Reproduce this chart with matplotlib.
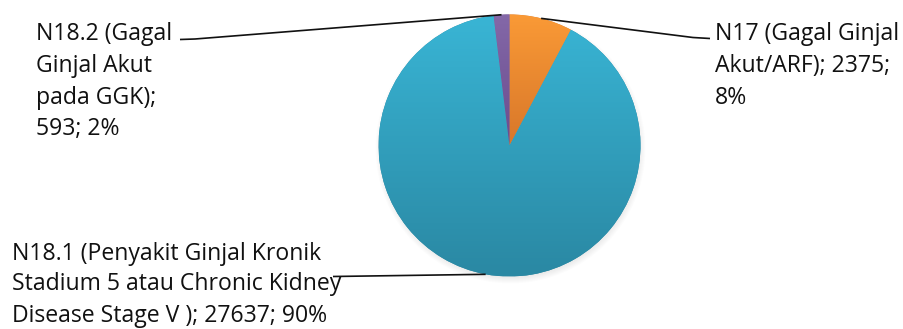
import textwrap
import numpy as np
import matplotlib
matplotlib.use("Agg")
import matplotlib.pyplot as plt
from matplotlib.colors import LinearSegmentedColormap

# Diagnosis categories and patient counts
categories = [
    "N17 (Gagal Ginjal Akut/ARF)",
    "N18.1 (Penyakit Ginjal Kronik Stadium 5 atau Chronic Kidney Disease Stage V )",
    "N18.2 (Gagal Ginjal Akut pada GGK)",
]
values = [2375, 27637, 593]

# slice colours: (top, bottom) of each slice's vertical gradient
grad_colors = [
    ("#FA9A36", "#D8772A"),
    ("#39B5D5", "#2A88A3"),
    ("#8468A8", "#6A4C8E"),
]

W, H = 904, 329
fig = plt.figure(figsize=(W / 100, H / 100), dpi=100)
ax = fig.add_axes([0, 0, 1, 1])

cx, cy, r = 509.5, H - 145.5, 131.0

wedges, _ = ax.pie(values, startangle=90, counterclock=False, radius=r,
                   center=(cx, cy), colors=[c[1] for c in grad_colors],
                   wedgeprops=dict(linewidth=0), frame=True)
ax.set_xlim(0, W)
ax.set_ylim(0, H)
ax.set_aspect("equal")
ax.axis("off")

# soft shadow below the pie
for k in range(8):
    sh = plt.Circle((cx + 1, cy - 3), r + 4 - k, color="#000000", alpha=0.012, zorder=0.5, lw=0)
    ax.add_patch(sh)

# gradient fill clipped to each wedge
for w, (ctop, cbot) in zip(wedges, grad_colors):
    w.set_zorder(1)
    ext = w.get_path().get_extents()
    cmap = LinearSegmentedColormap.from_list("g", [cbot, ctop])
    grad = np.linspace(0, 1, 256).reshape(-1, 1)
    im = ax.imshow(grad, cmap=cmap, origin="lower", aspect="auto",
                   extent=[ext.x0, ext.x1, ext.y0, ext.y1], zorder=1.5,
                   interpolation="bilinear")
    im.set_clip_path(w)
ax.set_xlim(0, W)
ax.set_ylim(0, H)

total = sum(values)
mids = []
acc = 0
for v in values:
    mids.append(90 - 360 * (acc + v / 2) / total)
    acc += v

# label layout: wrap width, text x, first baseline (px from top), line pitch, leader bend/end
label_wrap = [17, 32, 12]
label_x = [715, 12, 36]
label_base = [40.5, 259.5, 39.5]
label_pitch = [32, 31, 32]
leader_pts = [
    [(693, 37.5), (710, 38.5)],
    [(333, 276.5)],
    [(195, 39.0), (180, 39.5)],
]

font = ["Open Sans", "DejaVu Sans"]
for i, name in enumerate(categories):
    pct = round(100 * values[i] / total)
    text = f"{name}; {values[i]}; {pct}%"
    lines = textwrap.wrap(text, label_wrap[i])
    for j, line in enumerate(lines):
        ax.text(label_x[i], H - (label_base[i] + j * label_pitch[i]), line,
                fontsize=16.6, family=font, color="#111111",
                ha="left", va="baseline", zorder=5)
    a = np.deg2rad(mids[i])
    xs = [cx + r * np.cos(a)] + [p[0] for p in leader_pts[i]]
    ys = [cy + r * np.sin(a)] + [H - p[1] for p in leader_pts[i]]
    ax.plot(xs, ys, color="#111111", lw=1.2, zorder=4, solid_capstyle="butt")

fig.savefig("out.png", dpi=100)
